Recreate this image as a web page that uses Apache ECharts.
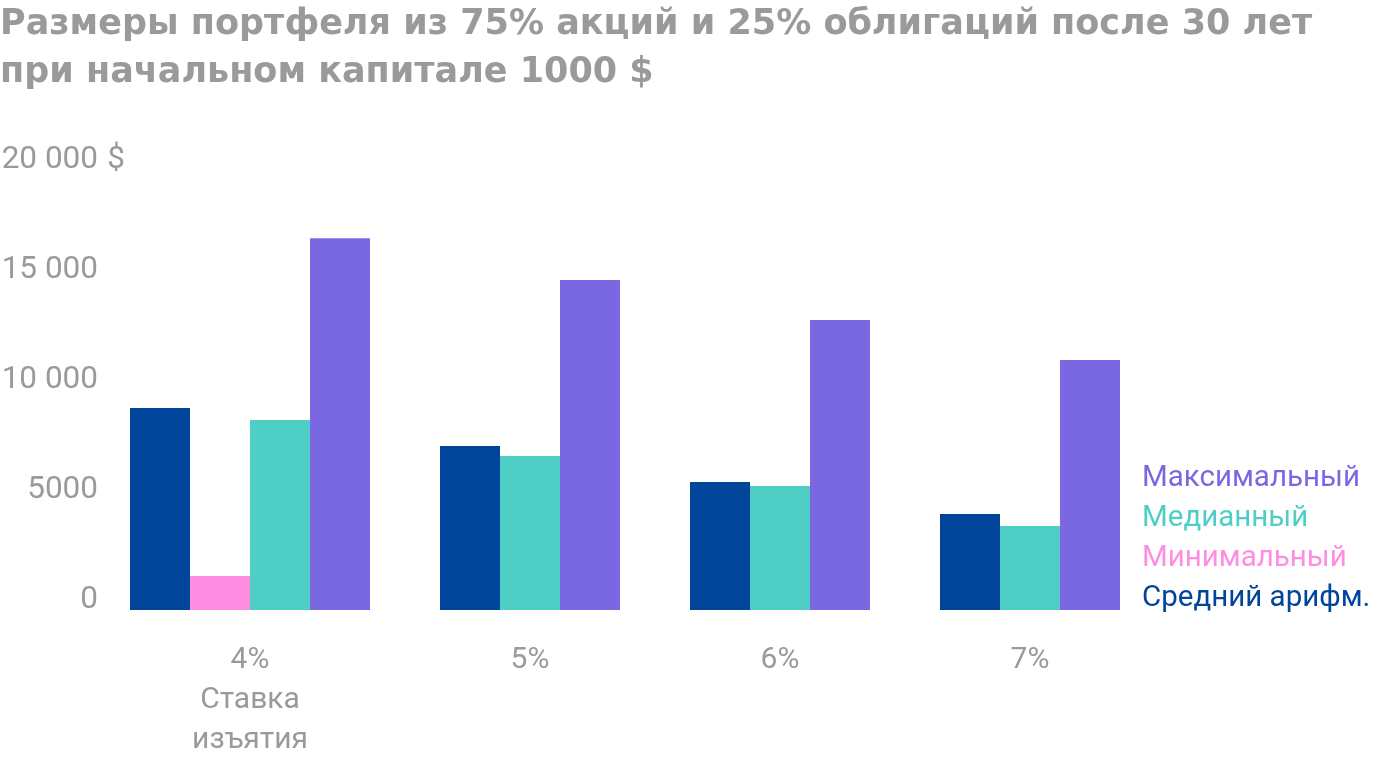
<!DOCTYPE html>
<html>
<head>
<meta charset="utf-8">
<script src="https://cdn.jsdelivr.net/npm/echarts@6/dist/echarts.min.js"></script>
<style>html,body{margin:0;padding:0;background:#fff}#c{width:1400px;height:760px}</style>
</head>
<body>
<div id="c"></div>
<script>
// ---- data ----
const titleText = 'Размеры портфеля из 75% акций и 25% облигаций после 30 лет\nпри начальном капитале 1000 $';
const categories = ['4%', '5%', '6%', '7%'];
const firstCategorySubLabel = 'Ставка\nизъятия';
const seriesNames = ['Средний арифм.', 'Минимальный', 'Медианный', 'Максимальный'];
const meanValues = [9180, 7450, 5820, 4360];
const minValues = [1550, null, null, null];
const medianValues = [8640, 7000, 5640, 3820];
const maxValues = [16900, 15000, 13180, 11360];
const yTicks = [0, 5000, 10000, 15000, 20000];
const yTickLabels = ['0', '5000', '10 000', '15 000', '20 000'];
const yUnit = '$';
const legendOrder = ['Максимальный', 'Медианный', 'Минимальный', 'Средний арифм.'];
const colors = ['#01459a', '#ff8de1', '#4fcec5', '#7a68e3'];

// ---- build slot positions (bars are packed, missing values leave no hole) ----
const GROUP_GAP = 7 / 6; // gap between groups, in bar widths
const seriesValues = [meanValues, minValues, medianValues, maxValues];
const seriesData = seriesValues.map(() => []);
const groupCenters = [];
let cursor = 0;
categories.forEach((c, i) => {
  const start = cursor;
  seriesValues.forEach((vals, s) => {
    if (vals[i] != null) {
      seriesData[s].push([cursor + 0.5, vals[i]]);
      cursor += 1;
    }
  });
  groupCenters.push((start + cursor) / 2);
  cursor += GROUP_GAP;
});
const xMax = cursor - GROUP_GAP;

const gray = '#9a9a9a';
const font = 'Roboto';

const chart = echarts.init(document.getElementById('c'), null, { renderer: 'canvas' });
chart.setOption({
  animation: false,
  backgroundColor: '#fff',
  title: {
    text: titleText,
    left: 0, top: 1, padding: 0,
    textStyle: { color: gray, fontFamily: '"DejaVu Sans", Roboto, sans-serif', fontWeight: 'bold', fontSize: 35, lineHeight: 48 }
  },
  legend: {
    data: legendOrder.map(n => ({ name: n, textStyle: { color: colors[seriesNames.indexOf(n)] } })),
    orient: 'vertical',
    left: 1137, top: 459, padding: 0, itemGap: 0,
    itemWidth: 0, itemHeight: 0,
    selectedMode: false,
    textStyle: { fontFamily: font, fontSize: 29.5, lineHeight: 40 }
  },
  grid: { left: 130, right: 280, top: 170, bottom: 150, outerBoundsMode: 'none', containLabel: false },
  xAxis: {
    type: 'value', min: 0, max: xMax,
    axisLine: { show: false }, axisTick: { show: false }, splitLine: { show: false },
    axisLabel: {
      customValues: groupCenters,
      margin: 30,
      color: gray, fontFamily: font, fontSize: 30, lineHeight: 40, verticalAlign: 'top',
      formatter: v => {
        let idx = 0, best = Infinity;
        groupCenters.forEach((g, i) => { if (Math.abs(g - v) < best) { best = Math.abs(g - v); idx = i; } });
        return idx === 0 ? categories[idx] + '\n' + firstCategorySubLabel : categories[idx];
      }
    }
  },
  yAxis: {
    type: 'value', min: 0, max: 20000, interval: 5000,
    name: yUnit, nameLocation: 'end', nameGap: 0, nameMoveOverlap: false,
    nameTextStyle: { color: gray, fontFamily: font, fontSize: 31.5, lineHeight: 20, align: 'right', verticalAlign: 'bottom', padding: [0, 5, 0, 0] },
    axisLine: { show: false }, axisTick: { show: false }, splitLine: { show: false },
    axisLabel: {
      margin: 32, color: gray, fontFamily: font, fontSize: 31.5, lineHeight: 20, verticalAlign: 'bottom',
      formatter: v => { const i = yTicks.indexOf(v); return i >= 0 ? yTickLabels[i] : ''; }
    }
  },
  series: seriesNames.map((name, s) => ({
    name, type: 'bar', data: seriesData[s],
    barWidth: 60, barGap: '-100%',
    itemStyle: { color: colors[s] },
    emphasis: { disabled: true }
  }))
});
</script>
</body>
</html>
